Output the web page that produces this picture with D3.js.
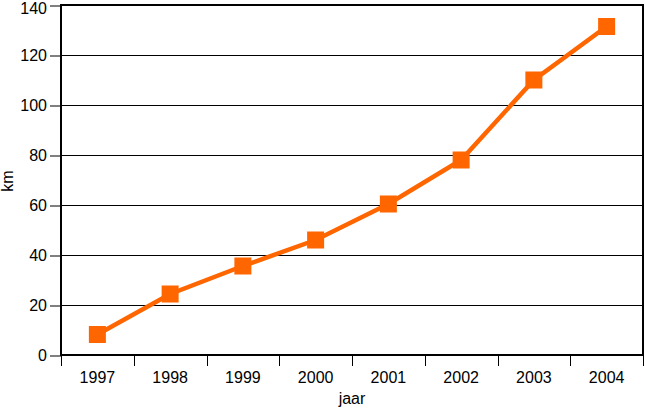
<!DOCTYPE html>
<html><head><meta charset="utf-8">
<script src="https://cdn.jsdelivr.net/npm/d3@7"></script>
<style>body{margin:0;background:#fff}svg{display:block}text{font-family:"Liberation Sans",Arial,sans-serif;fill:#000}</style>
</head><body>
<svg id="c" width="645" height="408"></svg>
<script>
const years = ["1997","1998","1999","2000","2001","2002","2003","2004"];
const km = [8.2, 24.4, 35.6, 46, 60.4, 78, 110, 131.4];
const yTicks = [0,20,40,60,80,100,120,140];

const svg = d3.select("#c");
const L=61,R=643,T=5,B=355;
const x = d3.scaleBand().domain(years).range([L,R]);
const y = d3.scaleLinear().domain([0,140]).range([B,T]);
const FS = 16;

// grid
svg.append("g").selectAll("line").data(yTicks.filter(d=>d>0 && d<140)).join("line")
  .attr("x1",L).attr("x2",R).attr("y1",d=>y(d)+0.5).attr("y2",d=>y(d)+0.5)
  .attr("stroke","#000").attr("stroke-width",1);

// frame
svg.append("rect").attr("x",L).attr("y",T).attr("width",R-L).attr("height",B-T)
  .attr("fill","none").attr("stroke","#000").attr("stroke-width",2);

// y axis
const ya = svg.append("g").attr("transform",`translate(${L},0.5)`)
  .call(d3.axisLeft(y).tickValues(yTicks).tickSize(11).tickPadding(3));
ya.select(".domain").remove();
ya.selectAll("line").attr("stroke","#000");
ya.selectAll("text").attr("font-size",FS).attr("font-family","Liberation Sans, Arial, sans-serif").attr("fill","#000")
  .attr("dy",d=>d===140?"0.5em":"0.32em");

// x axis ticks at band edges
const edges = years.map(d=>x(d)).concat([R]);
svg.append("g").selectAll("line").data(edges).join("line")
  .attr("x1",d=>Math.round(d)+0.5).attr("x2",d=>Math.round(d)+0.5).attr("y1",B).attr("y2",B+11)
  .attr("stroke","#000").attr("stroke-width",1);
svg.append("g").selectAll("text").data(years).join("text")
  .attr("x",d=>x(d)+x.bandwidth()/2).attr("y",383)
  .attr("text-anchor","middle").attr("font-size",FS).text(d=>d);

// axis titles
svg.append("text").attr("x",352).attr("y",404).attr("text-anchor","middle").attr("font-size",FS).text("jaar");
svg.append("text").attr("transform","translate(13,181) rotate(-90)").attr("text-anchor","middle").attr("font-size",FS).text("km");

// line
const cx = d=>x(d)+x.bandwidth()/2;
svg.append("path").datum(years.map((d,i)=>[cx(d),y(km[i])]))
  .attr("d",d3.line()).attr("fill","none").attr("stroke","#FF6600").attr("stroke-width",4.5);

svg.append("g").selectAll("rect").data(years).join("rect")
  .attr("x",d=>cx(d)-8.5).attr("y",(d,i)=>y(km[i])-8.5)
  .attr("width",17).attr("height",17).attr("fill","#FF6600");
</script>
</body></html>
